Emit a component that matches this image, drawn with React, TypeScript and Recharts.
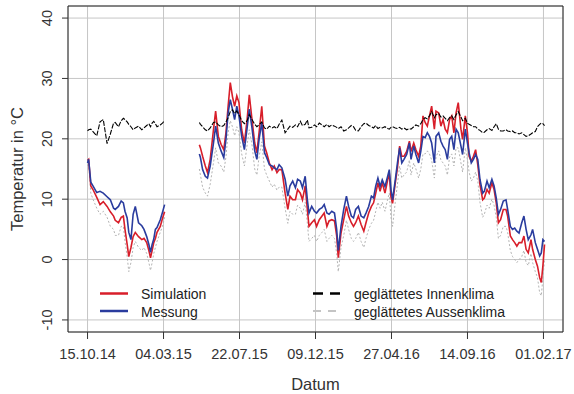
import { LineChart, Line, XAxis, YAxis, CartesianGrid, ReferenceArea, Label } from 'recharts';

const FONT = '"Liberation Sans", Arial, Helvetica, sans-serif';

// x axis: days since 15.10.14
const tickDays = [0, 140, 280, 420, 560, 700, 840];
const tickLabels = ['15.10.14', '04.03.15', '22.07.15', '09.12.15', '27.04.16', '14.09.16', '01.02.17'];
const yTicks = [-10, 0, 10, 20, 30, 40];

const days = [
  0, 2, 6, 10, 17, 23, 29, 36, 42, 48,
  51, 57, 62, 66, 69, 73, 76, 80, 84, 88,
  94, 100, 104, 109, 113, 116, 119, 122, 125, 128,
  134, 138, 142,
  174,
  206, 208, 212, 217, 221, 226, 232, 236, 241, 246,
  251, 255, 259, 263, 267, 271, 275, 279, 284, 289,
  294, 298, 303, 308, 312, 316, 321, 326, 330, 335,
  340, 344, 349, 353, 358, 364, 369, 373, 378, 383,
  387, 392, 396, 401, 405, 408, 413, 418, 422, 427,
  432, 436, 441, 445, 450, 455, 459, 462, 467, 472,
  477, 481, 486, 490, 494, 499, 504, 509, 513, 518,
  523, 527, 531, 535, 539, 543, 548, 553, 556, 559,
  562, 567, 571, 575, 579, 583, 588, 593, 596, 601,
  605, 610, 614, 618, 622, 626, 630, 634, 639, 642,
  647, 651, 655, 659, 663, 667, 671, 675, 679, 683,
  688, 691, 696, 700, 703, 707, 711, 715, 719, 723,
  728, 731, 736, 740, 745, 749, 753, 757, 761, 766,
  771, 774, 779, 783, 787, 791, 795, 800, 804, 808,
  812, 817, 820, 825, 829, 833, 836, 839, 842,
];

const simulation = [
  16.4, 16.6, 12.2, 11.6, 10.3, 9.1, 9.6, 8.8, 7.9, 7.2,
  6.5, 6.1, 7.0, 7.2, 5.0, 2.5, 0.5, 2.0, 3.8, 4.5,
  3.8, 3.3, 3.5, 2.8, 1.5, 0.3, 1.5, 2.8, 3.5, 4.5,
  5.5, 6.8, 7.9,
  null,
  19.0, 18.5, 17.1, 15.5, 14.4, 16.6, 21.5, 24.6, 20.4, 19.1,
  18.2, 21.0, 25.4, 29.3, 27.0, 25.4, 27.1, 26.0, 21.5, 19.3,
  23.2, 27.3, 23.2, 19.3, 17.7, 21.0, 25.4, 18.8, 17.7, 16.0,
  14.9, 15.5, 14.4, 14.9, 14.9, 11.0, 8.3, 10.5, 9.9, 9.9,
  11.6, 11.0, 9.9, 12.2, 8.3, 5.5, 6.1, 6.6, 5.5, 6.6,
  7.2, 7.7, 5.5, 6.4, 6.6, 6.4, 3.9, 0.3, 4.4, 6.6,
  8.8, 7.2, 6.1, 5.5, 6.1, 7.2, 5.8, 4.7, 6.1, 7.7,
  8.8, 9.4, 11.0, 12.7, 11.3, 12.7, 11.0, 13.2, 14.3, 10.4,
  9.3, 12.7, 15.2, 18.8, 17.1, 17.1, 17.9, 19.6, 17.9, 19.3,
  18.2, 17.1, 18.8, 23.8, 22.7, 22.1, 23.8, 25.4, 21.6, 24.6,
  24.3, 22.1, 23.2, 21.6, 21.0, 23.2, 23.8, 21.0, 24.3, 26.0,
  21.6, 19.9, 23.8, 21.0, 17.1, 16.3, 17.1, 18.2, 15.7, 12.4,
  9.9, 10.2, 11.6, 11.0, 12.7, 11.6, 9.4, 6.1, 6.6, 8.3,
  8.3, 7.2, 3.9, 3.3, 2.8, 2.2, 2.8, 2.8, 3.9, 1.7,
  1.1, 3.3, 1.7, 0.0, -1.1, -3.0, -3.8, -1.0, 2.5,
];

const messung = [
  16.0, 16.6, 12.8, 12.2, 11.1, 11.3, 11.0, 10.4, 9.9, 8.5,
  8.3, 8.8, 9.7, 9.4, 8.0, 6.9, 4.5, 3.3, 7.5, 8.8,
  6.1, 5.6, 5.0, 3.8, 2.5, 1.2, 2.5, 3.4, 5.0, 5.3,
  6.6, 7.8, 9.1,
  null,
  17.5, 16.9, 14.9, 13.8, 13.5, 15.5, 19.3, 22.1, 19.3, 18.0,
  16.9, 19.9, 24.3, 26.5, 24.9, 23.2, 25.4, 23.8, 20.4, 18.2,
  21.8, 24.9, 21.8, 18.0, 16.6, 19.9, 22.7, 17.7, 16.9, 15.7,
  15.5, 15.2, 14.9, 15.7, 15.2, 13.3, 10.5, 12.2, 13.0, 11.9,
  13.3, 13.0, 11.9, 13.8, 9.9, 7.7, 8.8, 8.0, 7.7, 8.3,
  8.6, 9.1, 7.7, 7.5, 8.0, 7.7, 5.0, 1.5, 5.5, 8.3,
  10.5, 8.8, 7.2, 6.9, 8.3, 8.8, 7.2, 6.9, 7.7, 8.8,
  10.5, 10.2, 12.2, 13.5, 12.1, 13.2, 12.1, 13.8, 14.9, 11.6,
  9.9, 13.2, 16.0, 18.5, 16.0, 16.6, 17.4, 19.3, 16.6, 18.8,
  17.4, 16.0, 17.9, 20.4, 20.2, 21.0, 20.4, 19.3, 16.0, 20.4,
  21.0, 19.6, 18.8, 18.2, 16.6, 19.9, 20.4, 18.2, 21.6, 21.0,
  18.8, 17.4, 21.6, 19.3, 17.7, 16.0, 16.6, 17.4, 16.6, 13.3,
  11.0, 11.3, 13.0, 11.9, 13.3, 12.2, 10.2, 7.5, 8.3, 9.7,
  9.9, 8.3, 5.5, 5.0, 5.2, 4.7, 4.4, 6.1, 7.2, 5.0,
  3.3, 4.1, 5.0, 2.8, 1.7, 0.6, 1.1, 3.3, 3.0,
];

const innenklima = [
  21.3, 21.5, 21.6, 21.2, 20.5, 22.8, 23.2, 19.2, 20.8, 22.6,
  22.7, 22.0, 23.0, 23.4, 23.2, 22.8, 22.4, 22.0, 21.5, 21.8,
  22.1, 21.5, 21.8, 22.2, 22.5, 22.0, 22.6, 22.9, 22.5, 22.0,
  22.3, 22.6, 23.0,
  null,
  22.7, 22.4, 22.0, 21.5, 21.3, 21.8, 22.7, 22.8, 22.3, 22.0,
  22.2, 22.8, 23.5, 24.5, 24.8, 24.2, 24.6, 24.0, 23.0, 22.5,
  23.0, 24.0, 23.2, 22.4, 22.0, 22.3, 22.8, 21.8, 21.6, 22.1,
  21.8, 22.0, 21.7, 22.4, 23.1, 21.0, 21.6, 22.1, 21.9, 22.3,
  22.0, 22.9, 22.2, 22.4, 23.1, 21.8, 21.9, 22.3, 22.0, 22.6,
  22.3, 22.0, 22.4, 22.0, 22.3, 22.1, 21.9, 21.7, 22.0, 21.3,
  21.5, 21.8, 22.2, 22.0, 21.4, 21.3, 22.0, 22.5, 22.6, 22.2,
  22.0, 21.8, 22.2, 21.7, 21.9, 21.8, 22.0, 21.7, 21.6, 21.9,
  22.0, 21.8, 21.7, 21.9, 21.6, 21.8, 21.5, 21.7, 21.6, 22.0,
  22.3, 22.1, 22.5, 23.2, 23.5, 23.3, 23.8, 24.5, 23.5, 24.0,
  24.2, 23.6, 23.8, 23.4, 23.0, 23.5, 23.8, 23.2, 24.0, 24.5,
  23.6, 23.0, 23.4, 22.6, 22.4, 22.2, 22.0, 22.0, 21.6, 21.4,
  21.0, 21.1, 21.5, 21.7, 21.4, 22.0, 22.5, 21.6, 21.3, 21.3,
  21.5, 21.3, 21.2, 21.3, 21.0, 21.0, 20.8, 21.0, 20.7, 20.4,
  20.5, 20.8, 21.0, 21.2, 22.0, 22.4, 22.6, 22.5, 22.2,
];

const aussenklima = [
  15.5, 16.0, 11.0, 10.0, 8.5, 7.5, 8.0, 7.0, 5.5, 5.0,
  4.0, 4.0, 5.5, 5.5, 3.0, 0.5, -2.0, -0.5, 2.0, 3.0,
  2.0, 1.5, 2.0, 1.0, -0.5, -1.8, -0.5, 1.0, 2.0, 3.0,
  4.5, 5.5, 7.0,
  null,
  15.0, 14.0, 12.0, 11.0, 10.5, 12.5, 16.0, 18.5, 16.0, 15.5,
  14.5, 17.0, 21.0, 23.0, 22.0, 20.5, 22.0, 21.0, 17.5, 15.5,
  19.0, 21.5, 19.0, 15.0, 14.0, 17.0, 19.5, 15.0, 14.0, 13.0,
  12.0, 12.5, 11.5, 12.0, 12.0, 8.5, 6.0, 8.0, 7.5, 7.5,
  9.0, 8.5, 7.5, 9.5, 6.0, 3.0, 3.5, 4.0, 3.0, 4.0,
  4.5, 5.0, 3.0, 3.5, 4.0, 3.5, 1.0, -2.0, 2.0, 4.0,
  6.5, 5.0, 3.5, 3.0, 3.5, 4.5, 3.0, 2.0, 3.5, 5.0,
  6.0, 6.5, 8.0, 9.5, 8.5, 9.5, 8.0, 10.0, 11.0, 7.0,
  5.5, 9.5, 12.5, 15.5, 13.5, 14.0, 14.5, 16.5, 14.0, 16.0,
  15.0, 13.5, 15.0, 17.5, 17.5, 18.0, 17.5, 16.5, 13.5, 17.0,
  18.0, 16.5, 16.0, 15.5, 14.0, 17.0, 17.5, 15.5, 18.5, 18.5,
  16.0, 14.5, 18.5, 16.5, 14.5, 13.0, 13.5, 14.5, 13.0, 9.5,
  7.0, 7.5, 9.0, 8.5, 10.0, 9.0, 7.0, 3.5, 4.0, 5.5,
  5.5, 4.5, 1.5, 0.5, 0.0, -0.5, 0.0, 0.5, 1.5, -0.5,
  -1.0, 1.0, -0.5, -2.0, -3.0, -5.5, -6.0, -3.0, 0.0,
];

const X_DOMAIN = [-36, 876];
const Y_DOMAIN = [-12, 42];

const RED = '#d81e2a';
const BLUE = '#2a3c9e';

const data = days.map((day, i) => ({
  day,
  simulation: simulation[i],
  messung: messung[i],
  innen: innenklima[i],
  aussen: aussenklima[i],
}));

function YTick({ x, y, payload }: any) {
  return (
    <text
      x={x}
      y={y}
      transform={`rotate(-90, ${x}, ${y})`}
      textAnchor="middle"
      fontSize={14.5}
      fill="#333"
      fontFamily={FONT}
    >
      {payload.value}
    </text>
  );
}

const yTitle = ({ viewBox }: any) => (
  <text
    transform={`translate(${viewBox.x + 23}, ${viewBox.y + viewBox.height / 2}) rotate(-90)`}
    textAnchor="middle"
    fontSize={16.5}
    fill="#333"
    fontFamily={FONT}
  >
    Temperatur in °C
  </text>
);

const xTitle = ({ viewBox }: any) => (
  <text
    x={viewBox.x + viewBox.width / 2}
    y={viewBox.y + 58}
    textAnchor="middle"
    fontSize={16.5}
    fill="#333"
    fontFamily={FONT}
  >
    Datum
  </text>
);

function LegendOverlay() {
  const txt = { fontSize: 14, fill: '#222', fontFamily: FONT };
  return (
    <svg width={574} height={394} style={{ position: 'absolute', left: 0, top: 0, pointerEvents: 'none' }}>
      <line x1={100} x2={128} y1={293.5} y2={293.5} stroke={RED} strokeWidth={2.5} />
      <text x={141} y={299} {...txt}>Simulation</text>
      <line x1={100} x2={128} y1={311} y2={311} stroke={BLUE} strokeWidth={2.5} />
      <text x={141} y={316.5} {...txt}>Messung</text>
      <line x1={313} x2={340} y1={293.5} y2={293.5} stroke="#000" strokeWidth={2.5} strokeDasharray="10 7" />
      <text x={354} y={299} {...txt}>geglättetes Innenklima</text>
      <line x1={313} x2={340} y1={311} y2={311} stroke="#c4c4c4" strokeWidth={2} strokeDasharray="8 7" />
      <text x={354} y={316.5} {...txt}>geglättetes Aussenklima</text>
    </svg>
  );
}

export default function App() {
  return (
    <div style={{ position: 'relative', width: 574, height: 394, background: '#fff' }}>
      <style>{'body{margin:0}'}</style>
      <LineChart width={574} height={394} data={data} margin={{ top: 6, right: 11, bottom: 0, left: 0 }}>
        <CartesianGrid stroke="#c6c6c6" strokeWidth={1} />
        <XAxis
          dataKey="day"
          type="number"
          domain={X_DOMAIN}
          ticks={tickDays}
          allowDataOverflow
          height={62}
          tickSize={7}
          tickMargin={10}
          axisLine={false}
          tickLine={{ stroke: '#333' }}
          tickFormatter={(v: number) => tickLabels[tickDays.indexOf(v)]}
          tick={{ fontSize: 14.5, fill: '#333', fontFamily: FONT }}
          label={<Label content={xTitle} />}
        />
        <YAxis
          type="number"
          domain={Y_DOMAIN}
          ticks={yTicks}
          allowDataOverflow
          width={68}
          tickSize={6}
          tickMargin={10}
          axisLine={false}
          tickLine={{ stroke: '#333' }}
          tick={<YTick />}
          label={<Label content={yTitle} />}
        />
        <ReferenceArea x1={X_DOMAIN[0]} x2={X_DOMAIN[1]} y1={Y_DOMAIN[0]} y2={Y_DOMAIN[1]} fill="none" stroke="#222" strokeWidth={1} />
        <Line dataKey="aussen" stroke="#b4b4b4" strokeWidth={1} strokeDasharray="2 2" dot={false} isAnimationActive={false} />
        <Line dataKey="simulation" stroke={RED} strokeWidth={1.6} dot={false} isAnimationActive={false} />
        <Line dataKey="messung" stroke={BLUE} strokeWidth={1.6} dot={false} isAnimationActive={false} />
        <Line dataKey="innen" stroke="#000" strokeWidth={1.1} strokeDasharray="5 1.5" dot={false} isAnimationActive={false} />
      </LineChart>
      <LegendOverlay />
    </div>
  );
}
